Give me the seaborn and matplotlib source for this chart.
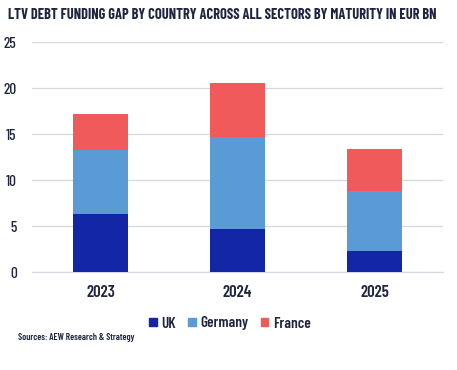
import matplotlib
matplotlib.use("Agg")
import matplotlib.pyplot as plt
import seaborn as sns
import pandas as pd
import numpy as np
from matplotlib.patches import Patch

years = ["2023", "2024", "2025"]
uk = [6.3, 4.7, 2.35]
germany = [7.0, 10.0, 6.5]
france = [3.9, 5.9, 4.55]

c_uk = "#1226a6"
c_de = "#5b9bd5"
c_fr = "#f05a5a"
navy = "#1f2540"

sns.set_theme(style="white")
plt.rcParams['font.family'] = ['Barlow Condensed', 'DejaVu Sans']

cum_de = np.array(uk) + np.array(germany)
cum_fr = cum_de + np.array(france)
df = pd.DataFrame({"year": years, "UK": uk, "DE": cum_de, "FR": cum_fr})

fig = plt.figure(figsize=(4.57, 3.70), dpi=100)
ax = fig.add_axes([32/457, 1 - 272.3/370, 411/457, (272.3-42.3)/370])

for col, colr in [("FR", c_fr), ("DE", c_de), ("UK", c_uk)]:
    sns.barplot(data=df, x="year", y=col, color=colr, width=0.4, ax=ax,
                saturation=1, linewidth=0, zorder=3)

ax.set_ylim(0, 25)
ax.set_xlim(-0.5, 2.5)
ax.set_yticks([0, 5, 10, 15, 20, 25])
ax.yaxis.grid(True, color="#d5d8e0", linewidth=0.9, zorder=0)
ax.axhline(0, color="#d5d8e0", linewidth=0.9, zorder=1, clip_on=False)
ax.set_axisbelow(True)
for s in ax.spines.values():
    s.set_visible(False)
ax.set_xlabel("")
ax.set_ylabel("")
ax.tick_params(axis="y", length=0, pad=11, labelsize=11, labelcolor=navy)
ax.tick_params(axis="x", length=0, pad=9, labelsize=12, labelcolor=navy)
for lab in ax.get_yticklabels():
    lab.set_fontweight("medium")
for lab in ax.get_xticklabels():
    lab.set_fontweight("semibold")

fig.text(8/457, 1 - 15/370, "LTV DEBT FUNDING GAP BY COUNTRY ACROSS ALL SECTORS BY MATURITY IN EUR BN",
         fontsize=10.4, fontweight="bold", color=navy, va="center", ha="left")

handles = [Patch(color=c_uk, label="UK"), Patch(color=c_de, label="Germany"), Patch(color=c_fr, label="France")]
leg = fig.legend(handles=handles, loc="center", bbox_to_anchor=(230/457, 1 - 323.5/370), ncol=3,
                 frameon=False, handlelength=0.5, handleheight=0.5, handletextpad=0.3, columnspacing=0.8,
                 prop={"size": 11, "weight": "semibold"})
for t in leg.get_texts():
    t.set_color(navy)

fig.text(18/457, 1 - 338/370, "Sources: AEW Research & Strategy", fontsize=6.8, fontweight="semibold",
         color=navy, va="center", ha="left")

fig.savefig("out.png", dpi=100)
